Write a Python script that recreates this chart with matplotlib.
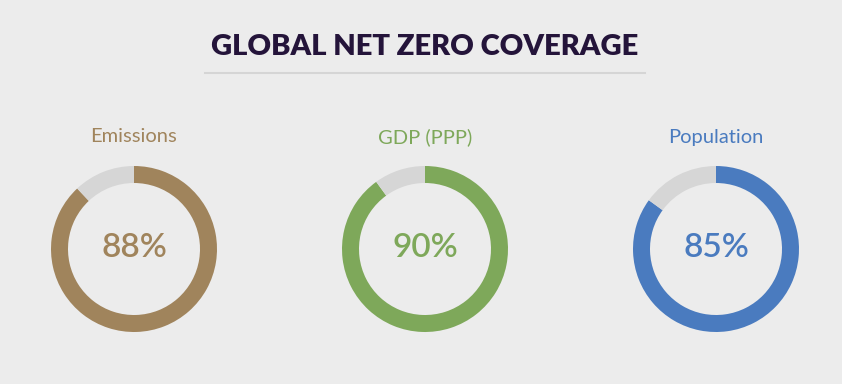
import matplotlib
matplotlib.use("Agg")
import matplotlib.pyplot as plt

# ---- data ----
categories = ["Emissions", "GDP (PPP)", "Population"]
coverage = [88, 90, 85]
colors = ["#a0845c", "#7ea85a", "#4a7bbf"]
title = "GLOBAL NET ZERO COVERAGE"

W, H = 842, 384
BG = "#ececec"
REST = "#d6d6d6"

fig = plt.figure(figsize=(W / 100, H / 100), dpi=100, facecolor=BG)
ax = fig.add_axes([0, 0, 1, 1])

centers_x = [134, 425, 716]
cy = H - 249
radius = 83

for cx, name, val, col in zip(centers_x, categories, coverage, colors):
    ax.pie([val, 100 - val], colors=[col, REST], startangle=90,
           counterclock=False, center=(cx, cy), radius=radius,
           wedgeprops=dict(width=17, edgecolor="none"), frame=True)
    ax.text(cx, cy + 1, f"{val}%", ha="center", va="center",
            fontsize=24, fontweight="semibold", color=col, family="Lato")
    ax.text(cx, H - 137, name, ha="center", va="center",
            fontsize=14.5, color=col, family="Lato")

ax.set_xlim(0, W)
ax.set_ylim(0, H)
ax.set_aspect("equal")
ax.axis("off")

# title + rule
ax.text(425, H - 47, title, ha="center", va="center", fontsize=21,
        fontweight="heavy", color="#24143a", family="Lato")
ax.plot([205, 645], [H - 73, H - 73], color="#d5d5d5", lw=1.5)

fig.savefig("out.png", dpi=100, facecolor=BG)
